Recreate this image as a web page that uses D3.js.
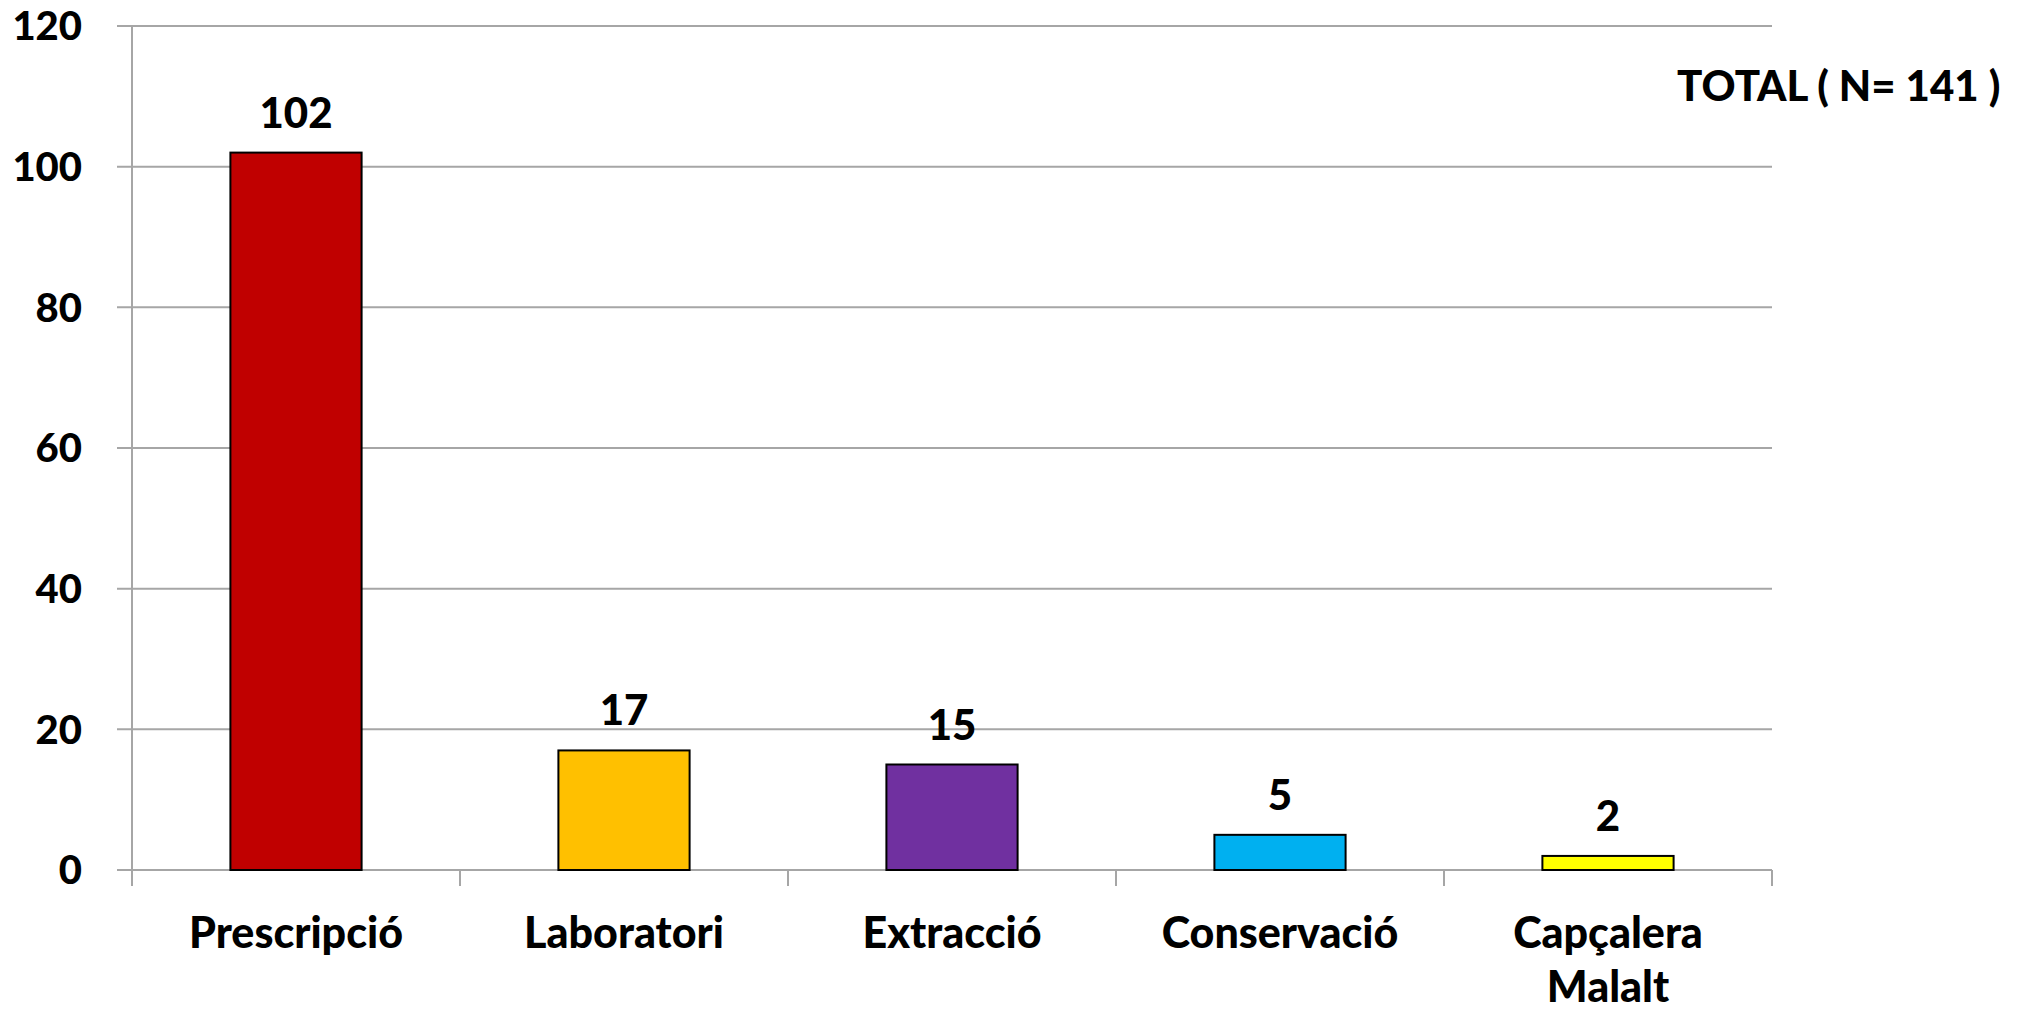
<!DOCTYPE html>
<html><head><meta charset="utf-8">
<script src="https://cdn.jsdelivr.net/npm/d3@7"></script>
<style>body{margin:0;background:#fff}svg{display:block}</style>
</head><body>
<script>
const categories = [["Prescripció"], ["Laboratori"], ["Extracció"], ["Conservació"], ["Capçalera", "Malalt"]];
const values = [102, 17, 15, 5, 2];
const colors = ["#C00000", "#FFC000", "#7030A0", "#00B0F0", "#FFFF00"];
const yTicks = [0, 20, 40, 60, 80, 100, 120];
const totalLabel = "TOTAL ( N= 141 )";

const W = 2026, H = 1012;
const m = {left: 132, right: 2026 - 1772, top: 26, bottom: 1012 - 870};
const svg = d3.select("body").append("svg").attr("width", W).attr("height", H);
const font = "Lato, 'Open Sans', sans-serif";

const x = d3.scaleBand().domain(d3.range(categories.length)).range([m.left, W - m.right]).paddingInner(0.6).paddingOuter(0.3);
const y = d3.scaleLinear().domain([0, 120]).range([H - m.bottom, m.top]);

// gridlines
svg.append("g").selectAll("line").data(yTicks).join("line")
  .attr("x1", m.left - 15).attr("x2", W - m.right)
  .attr("y1", d => y(d)).attr("y2", d => y(d))
  .attr("stroke", "#A6A6A6").attr("stroke-width", 2);

// y axis line
svg.append("line").attr("x1", m.left).attr("x2", m.left).attr("y1", y(120)).attr("y2", y(0) + 16)
  .attr("stroke", "#A6A6A6").attr("stroke-width", 2);

// category ticks
const bounds = d3.range(categories.length + 1).map(i => m.left + i * (W - m.right - m.left) / categories.length);
svg.append("g").selectAll("line").data(bounds).join("line")
  .attr("x1", d => d).attr("x2", d => d).attr("y1", y(0)).attr("y2", y(0) + 16)
  .attr("stroke", "#A6A6A6").attr("stroke-width", 2);

// y tick labels
svg.append("g").selectAll("text").data(yTicks).join("text")
  .attr("x", 82).attr("y", d => y(d)).attr("dy", "0.36em")
  .attr("text-anchor", "end").attr("font-family", font).attr("font-weight", 900)
  .attr("font-size", 40).attr("fill", "#000").text(d => d);

// bars
svg.append("g").selectAll("rect").data(values).join("rect")
  .attr("x", (d, i) => x(i)).attr("width", x.bandwidth())
  .attr("y", d => y(d)).attr("height", d => y(0) - y(d))
  .attr("fill", (d, i) => colors[i]).attr("stroke", "#000").attr("stroke-width", 2);

// value labels
svg.append("g").selectAll("text").data(values).join("text")
  .attr("x", (d, i) => x(i) + x.bandwidth() / 2).attr("y", d => y(d) - 25)
  .attr("text-anchor", "middle").attr("font-family", font).attr("font-weight", 900)
  .attr("font-size", 42).attr("fill", "#000").text(d => d);

// category labels
const cl = svg.append("g").selectAll("text").data(categories).join("text")
  .attr("x", (d, i) => x(i) + x.bandwidth() / 2).attr("y", y(0) + 78)
  .attr("text-anchor", "middle").attr("font-family", font).attr("font-weight", 900)
  .attr("font-size", 43).attr("fill", "#000");
cl.selectAll("tspan").data(d => d).join("tspan")
  .attr("x", function() { return d3.select(this.parentNode).attr("x"); })
  .attr("dy", (d, j) => j === 0 ? 0 : 54).text(d => d);

// total label
svg.append("text").attr("x", 1677).attr("y", 101).attr("font-family", font).attr("font-weight", 900)
  .attr("font-size", 42).attr("fill", "#000").text(totalLabel);
</script>
</body></html>
